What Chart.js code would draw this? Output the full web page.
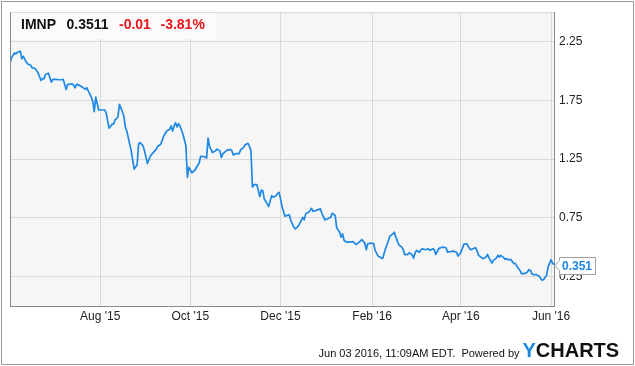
<!DOCTYPE html>
<html>
<head>
<meta charset="utf-8">
<script src="https://cdn.jsdelivr.net/npm/chart.js@4/dist/chart.umd.min.js"></script>
<style>
  html, body { margin: 0; padding: 0; background: #fff; }
  #wrap { position: relative; width: 635px; height: 366px; }
</style>
</head>
<body>
<div id="wrap"><canvas id="c" width="635" height="366"></canvas></div>
<script>
// ---- DATA ----
const startDate = '2015-06-01';          // day 0 of the day offsets below
const ticker = 'IMNP';
const lastPrice = '0.3511';
const change = '-0.01';
const changePct = '-3.81%';
const calloutLabel = '0.351';
const footerText = 'Jun 03 2016, 11:09AM EDT.  Powered by';

// calendar days since startDate
const days = [0,1,3,4,5,6,7,8,9,11,12,14,15,17,19,21,22,23,24,26,27,28,29,31,33,35,36,38,39,40,42,43,44,45,47,49,51,52,53,55,56,57,58,60,61,64,65,67,69,70,71,73,74,75,77,78,79,82,84,86,87,88,90,91,93,95,96,99,100,102,104,106,108,109,110,111,112,113,114,115,117,119,120,121,123,125,128,129,132,133,134,135,137,139,140,142,143,144,147,149,150,151,153,155,156,158,159,161,162,163,164,165,167,169,170,171,172,174,175,177,178,180,181,182,183,184,186,187,189,190,192,193,195,196,198,199,200,202,203,204,205,207,208,210,211,213,215,217,218,220,221,223,224,225,226,228,230,232,234,235,237,238,240,241,242,244,246,247,249,251,252,254,256,257,259,260,261,263,265,266,267,269,270,272,273,274,275,277,278,279,281,283,284,286,287,288,290,291,293,295,296,298,300,302,303,305,306,307,309,310,311,312,313,315,316,317,319,320,322,323,324,325,326,327,329,330,331,332,334,335,336,337,339,340,341,342,343,345,346,348,350,351,352,353,354,356,358,359,360,361,363,364,366,367,368];
const prices = [2.060,2.111,2.153,2.145,2.159,2.162,2.168,2.103,2.125,2.075,2.060,2.049,2.026,2.021,1.984,1.919,1.936,1.933,1.970,1.981,1.942,1.905,1.928,1.928,1.925,1.925,1.928,1.843,1.886,1.886,1.891,1.880,1.857,1.886,1.877,1.863,1.843,1.857,1.829,1.778,1.738,1.653,1.778,1.668,1.668,1.668,1.645,1.513,1.547,1.547,1.581,1.608,1.716,1.687,1.617,1.524,1.490,1.320,1.165,1.202,1.377,1.391,1.363,1.320,1.213,1.278,1.292,1.335,1.360,1.377,1.447,1.490,1.504,1.532,1.490,1.532,1.560,1.524,1.552,1.532,1.462,1.363,1.094,1.179,1.134,1.155,1.219,1.274,1.269,1.258,1.428,1.358,1.306,1.320,1.335,1.320,1.264,1.295,1.329,1.331,1.325,1.286,1.297,1.297,1.329,1.350,1.371,1.384,1.358,1.320,1.011,1.032,1.032,0.931,0.987,0.981,0.911,0.869,0.846,0.939,0.925,0.939,0.958,0.967,0.914,0.846,0.764,0.769,0.775,0.727,0.670,0.657,0.679,0.704,0.755,0.733,0.784,0.797,0.812,0.831,0.806,0.812,0.818,0.826,0.789,0.733,0.742,0.755,0.789,0.769,0.665,0.628,0.586,0.614,0.558,0.543,0.543,0.549,0.524,0.530,0.552,0.566,0.535,0.479,0.530,0.535,0.532,0.473,0.425,0.411,0.403,0.487,0.558,0.594,0.614,0.628,0.586,0.521,0.501,0.481,0.436,0.439,0.453,0.436,0.408,0.450,0.473,0.458,0.479,0.487,0.479,0.487,0.473,0.487,0.479,0.439,0.487,0.496,0.501,0.496,0.458,0.464,0.467,0.458,0.425,0.456,0.490,0.524,0.530,0.507,0.487,0.479,0.487,0.496,0.467,0.431,0.411,0.403,0.416,0.439,0.411,0.388,0.365,0.388,0.408,0.431,0.416,0.431,0.411,0.397,0.403,0.394,0.394,0.374,0.360,0.360,0.337,0.303,0.275,0.275,0.289,0.309,0.303,0.275,0.267,0.267,0.253,0.233,0.219,0.225,0.261,0.331,0.394,0.365,0.3511];

const xTickDates = ['2015-08-01','2015-10-01','2015-12-01','2016-02-01','2016-04-01','2016-06-01'];
const xTickLabels = ["Aug '15","Oct '15","Dec '15","Feb '16","Apr '16","Jun '16"];
const yTickValues = [0.25, 0.75, 1.25, 1.75, 2.25];
const endDate = '2016-06-03';

// ---- helpers ----
function dayOf(s) {
  const [y, m, d] = s.split('-').map(Number);
  const [y0, m0, d0] = startDate.split('-').map(Number);
  return Math.round((Date.UTC(y, m - 1, d) - Date.UTC(y0, m0 - 1, d0)) / 86400000);
}
const xTickDays = xTickDates.map(dayOf);
const points = days.map((d, i) => ({ x: d, y: prices[i] }));

const FONT = "'Liberation Sans', Arial, Helvetica, sans-serif";
const BLUE = '#1e88e5';

const decor = {
  id: 'decor',
  beforeDraw(chart) {
    const { ctx, chartArea: a } = chart;
    ctx.save();
    ctx.fillStyle = '#ffffff';
    ctx.fillRect(0, 0, chart.width, chart.height);
    ctx.fillStyle = '#f6f6f6';
    ctx.fillRect(a.left, a.top, a.right - a.left, a.bottom - a.top);
    ctx.restore();
  },
  afterDraw(chart) {
    const { ctx, chartArea: a } = chart;
    ctx.save();
    // top (light) and left (dark) plot borders
    ctx.lineWidth = 1;
    ctx.strokeStyle = '#d6d6d6';
    ctx.beginPath(); ctx.moveTo(a.left, a.top + 0.5); ctx.lineTo(a.right, a.top + 0.5); ctx.stroke();
    ctx.strokeStyle = '#8a8a8a';
    ctx.beginPath(); ctx.moveTo(a.left + 0.5, a.top); ctx.lineTo(a.left + 0.5, a.bottom); ctx.stroke();

    // header box
    ctx.fillStyle = '#fbfbfb';
    ctx.fillRect(a.left + 1, a.top + 1, 205, 26);
    ctx.textBaseline = 'alphabetic';
    ctx.textAlign = 'left';
    ctx.font = 'bold 14px ' + FONT;
    ctx.fillStyle = '#111';
    ctx.fillText(ticker, 21, 28.5);
    ctx.fillText(lastPrice, 66.5, 28.5);
    ctx.fillStyle = '#e8151b';
    ctx.fillText(change, 119, 28.5);
    ctx.fillText(changePct, 160.5, 28.5);

    // callout for the last value
    const ys = chart.scales.y;
    const yv = Math.round(ys.getPixelForValue(prices[prices.length - 1])) + 0.5;
    const bx = a.right + 5.5, bw = 36, top = yv - 8, bh = 17;
    ctx.fillStyle = '#ffffff';
    ctx.strokeStyle = '#a0a0a0';
    ctx.beginPath();
    ctx.moveTo(a.right + 1, yv);
    ctx.lineTo(bx, yv - 5);
    ctx.lineTo(bx, top);
    ctx.lineTo(bx + bw, top);
    ctx.lineTo(bx + bw, top + bh);
    ctx.lineTo(bx, top + bh);
    ctx.lineTo(bx, yv + 5);
    ctx.closePath();
    ctx.fill(); ctx.stroke();
    ctx.fillStyle = BLUE;
    ctx.font = 'bold 12px ' + FONT;
    ctx.textBaseline = 'middle';
    ctx.fillText(calloutLabel, bx + 2.5, top + bh / 2 + 0.5);

    // footer
    ctx.textBaseline = 'alphabetic';
    ctx.textAlign = 'right';
    ctx.font = '11px ' + FONT;
    ctx.fillStyle = '#111';
    ctx.fillText(footerText, 519.5, 356.5);
    ctx.textAlign = 'left';
    ctx.font = 'bold 20px ' + FONT;
    ctx.fillStyle = BLUE;
    ctx.fillText('Y', 522.5, 357);
    const yw = ctx.measureText('Y').width;
    ctx.fillStyle = '#111';
    ctx.fillText('CHARTS', 522.5 + yw, 357);

    // outer frame
    ctx.strokeStyle = '#999999';
    ctx.lineWidth = 1;
    ctx.strokeRect(1.5, 1.5, 632, 363);
    ctx.restore();
  }
};

new Chart(document.getElementById('c'), {
  type: 'line',
  data: {
    datasets: [{
      data: points,
      borderColor: BLUE,
      borderWidth: 1.7,
      pointRadius: 0,
      fill: false,
      tension: 0,
      borderJoinStyle: 'round'
    }]
  },
  options: {
    responsive: false,
    animation: false,
    devicePixelRatio: 1,
    layout: { padding: { left: 10, top: 10, right: 0, bottom: 0 } },
    plugins: { legend: { display: false }, tooltip: { enabled: false }, title: { display: false } },
    scales: {
      x: {
        type: 'linear',
        min: 0,
        max: dayOf(endDate),
        afterBuildTicks(scale) { scale.ticks = xTickDays.map(v => ({ value: v })); },
        afterFit(scale) { scale.height = 60; },
        ticks: {
          autoSkip: false,
          maxRotation: 0,
          padding: 3,
          color: '#222',
          font: { family: FONT, size: 12 },
          callback(v) { const i = xTickDays.indexOf(v); return i >= 0 ? xTickLabels[i] : ''; }
        },
        grid: { color: '#d9d9d9', drawTicks: false, lineWidth: 1 },
        border: { color: '#8a8a8a', width: 1 }
      },
      y: {
        position: 'right',
        min: 0,
        max: 2.5,
        afterBuildTicks(scale) { scale.ticks = yTickValues.map(v => ({ value: v })); },
        afterFit(scale) { scale.width = 81; },
        ticks: {
          padding: 5,
          color: '#222',
          font: { family: FONT, size: 12 },
          callback(v) { return v.toFixed(2); }
        },
        grid: { color: '#d9d9d9', drawTicks: false, lineWidth: 1 },
        border: { color: '#8a8a8a', width: 1 }
      }
    }
  },
  plugins: [decor]
});
</script>
</body>
</html>
